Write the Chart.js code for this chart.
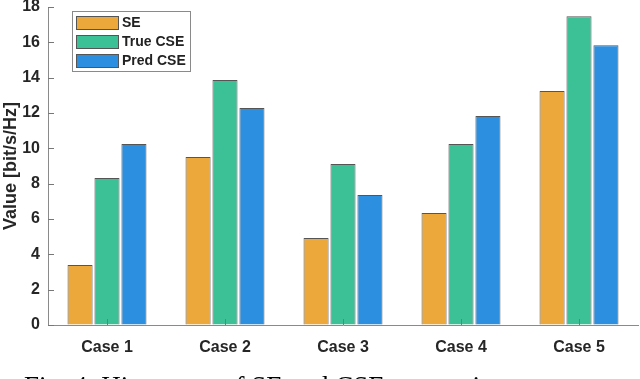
<!DOCTYPE html>
<html>
<head>
<meta charset="utf-8">
<script src="https://cdn.jsdelivr.net/npm/chart.js@4/dist/chart.umd.min.js"></script>
<style>
  html, body { margin: 0; padding: 0; background: #fff; overflow: hidden; }
  #wrap { position: relative; width: 640px; height: 379px; }
  #caption {
    position: absolute; left: 24px; top: 373px;
    font: 27px "Liberation Serif", "Times New Roman", serif;
    line-height: 27px; color: #000; white-space: nowrap;
  }
</style>
</head>
<body>
<div id="wrap">
  <canvas id="chart" width="640" height="379"></canvas>
  <div id="caption">Fig. 4: Histogram of SE and CSE comparison</div>
</div>
<script>
const categories = ['Case 1', 'Case 2', 'Case 3', 'Case 4', 'Case 5'];
const seValues = [3.40, 9.51, 4.93, 6.34, 13.24];
const trueCseValues = [8.32, 13.87, 9.11, 10.24, 17.48];
const predCseValues = [10.24, 12.28, 7.36, 11.83, 15.84];
const yTicks = [0, 2, 4, 6, 8, 10, 12, 14, 16, 18];

const labelFont = { family: 'Liberation Sans, Arial, sans-serif', size: 16, weight: 'bold' };

// legend box sits inside the plot, top-left, like the MATLAB one
const boxLegend = {
  id: 'boxLegend',
  afterDraw(chart) {
    const ctx = chart.ctx;
    ctx.save();
    ctx.fillStyle = '#fff';
    ctx.fillRect(72, 11, 118, 60);
    ctx.strokeStyle = '#8a8a8a';
    ctx.lineWidth = 1;
    ctx.strokeRect(72.5, 11.5, 118, 60);
    ctx.font = 'bold 14px "Liberation Sans", Arial, sans-serif';
    ctx.textBaseline = 'middle';
    chart.data.datasets.forEach((ds, i) => {
      const y = 16 + i * 19;
      ctx.fillStyle = ds.backgroundColor;
      ctx.fillRect(76, y, 42, 13);
      ctx.strokeStyle = '#555';
      ctx.strokeRect(76.5, y + 0.5, 42, 13);
      ctx.fillStyle = '#222';
      ctx.fillText(ds.label, 122, y + 7.5);
    });
    ctx.restore();
  }
};

// inward tick marks on both axes
const innerTicks = {
  id: 'innerTicks',
  afterDatasetsDraw(chart) {
    const ctx = chart.ctx;
    const x = chart.scales.x, y = chart.scales.y;
    const area = chart.chartArea;
    ctx.save();
    ctx.strokeStyle = '#777';
    ctx.lineWidth = 1;
    ctx.beginPath();
    yTicks.forEach(v => {
      const py = Math.round(y.getPixelForValue(v)) + 0.5;
      ctx.moveTo(area.left, py);
      ctx.lineTo(area.left + 6, py);
    });
    categories.forEach((c, i) => {
      const px = Math.round(x.getPixelForValue(i)) + 0.5;
      ctx.moveTo(px, area.bottom);
      ctx.lineTo(px, area.bottom - 6);
    });
    ctx.stroke();
    ctx.restore();
  }
};

const bar = (label, data, color) => ({
  label, data,
  backgroundColor: color,
  borderColor: '#555',
  borderWidth: 1,
  categoryPercentage: 0.685,
  barPercentage: 0.93
});

new Chart(document.getElementById('chart'), {
  type: 'bar',
  data: {
    labels: categories,
    datasets: [
      bar('SE', seValues, '#EDA83B'),
      bar('True CSE', trueCseValues, '#3CC197'),
      bar('Pred CSE', predCseValues, '#2C8FE0')
    ]
  },
  options: {
    responsive: false,
    animation: false,
    layout: { padding: { top: 7, right: 2, left: 0, bottom: 0 } },
    plugins: {
      legend: { display: false },
      tooltip: { enabled: false }
    },
    scales: {
      x: {
        grid: { display: false },
        border: { color: '#8a8a8a', width: 1 },
        ticks: { color: '#262626', font: labelFont, padding: 5 },
        afterFit(scale) { scale.height = 54; scale.paddingLeft = 0; scale.paddingRight = 0; }
      },
      y: {
        min: 0, max: 18,
        grid: { drawOnChartArea: false, drawTicks: false },
        border: { color: '#8a8a8a', width: 1 },
        ticks: { stepSize: 2, color: '#262626', font: labelFont, padding: 8 },
        title: {
          display: true, text: 'Value [bit/s/Hz]', color: '#262626',
          font: { family: 'Liberation Sans, Arial, sans-serif', size: 18, weight: 'bold' },
          padding: { top: 0, bottom: 0 }
        },
        afterFit(scale) { scale.width = 48; scale.paddingTop = 0; scale.paddingBottom = 0; }
      }
    }
  },
  plugins: [innerTicks, boxLegend]
});
</script>
</body>
</html>
